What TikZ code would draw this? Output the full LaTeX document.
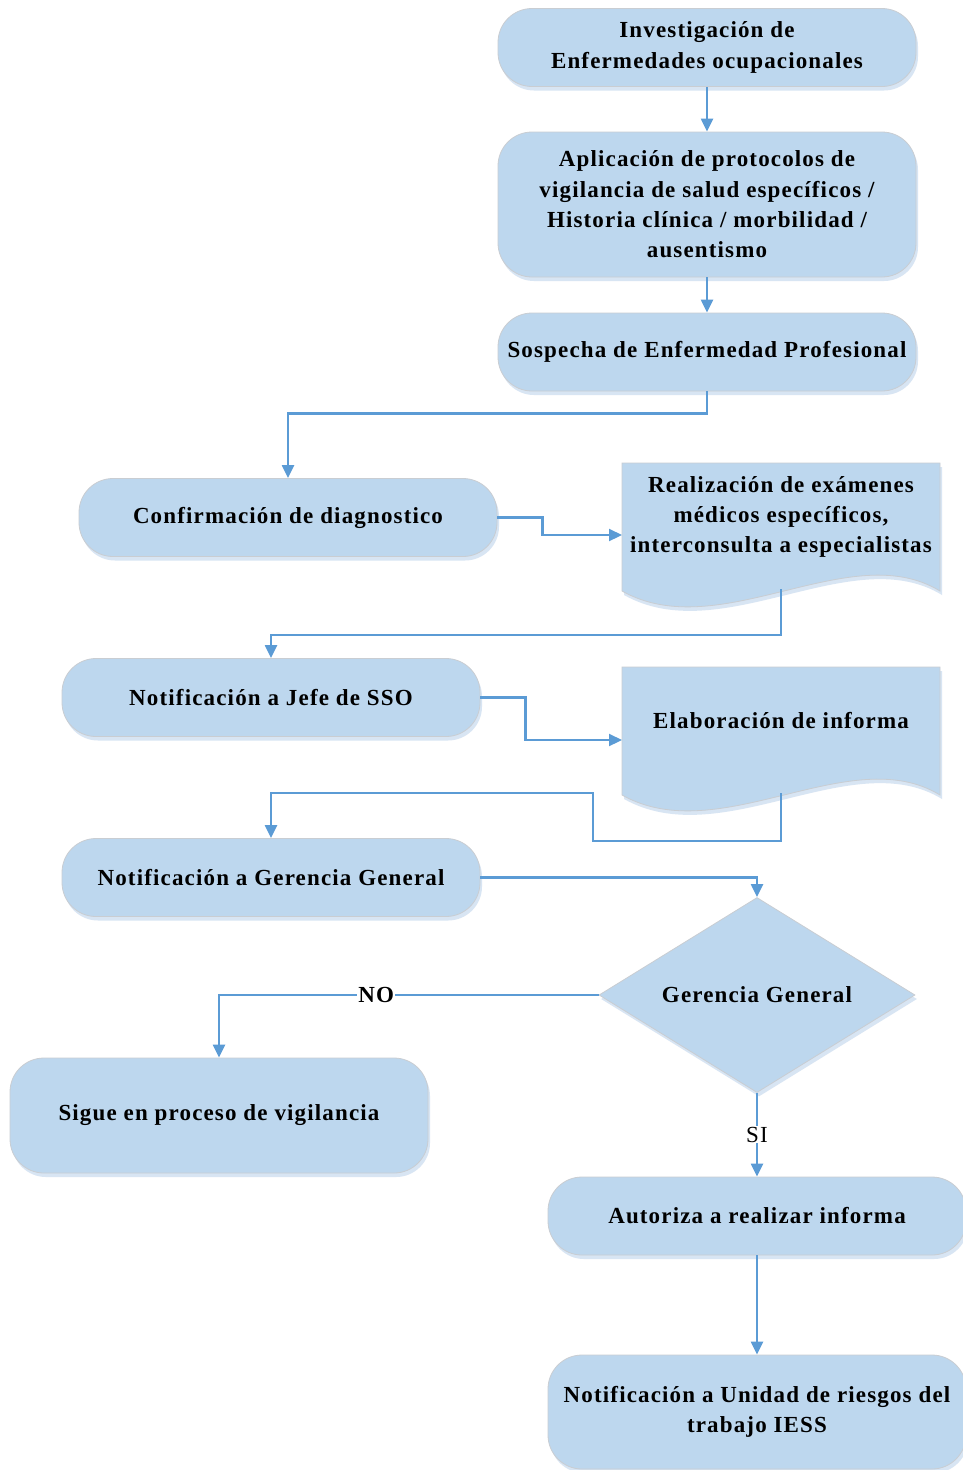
\documentclass[tikz,border=0pt]{standalone}
\usepackage{fontspec}
\setmainfont{Liberation Serif}[LetterSpace=5]
\usetikzlibrary{shapes.geometric,arrows.meta,shadows}
\definecolor{boxfill}{HTML}{BDD7EE}
\definecolor{boxshade}{HTML}{D8E5F3}
\definecolor{boxline}{HTML}{C9CDD2}
\definecolor{flow}{HTML}{5B9BD5}
\newcommand\boxfont{\fontsize{23}{30.3}\selectfont\bfseries}

\tikzset{
  shade box/.style={general shadow={fill=boxshade, shadow xshift=2pt, shadow yshift=-4pt}},
  stepbox/.style={draw=boxline, line width=0.8pt, fill=boxfill, rounded corners=34pt,
    minimum width=418pt, minimum height=78pt, inner sep=0pt, align=center,
    font=\boxfont, shade box},
  decision/.style={diamond, aspect=1.62, draw=boxline, line width=0.8pt, fill=boxfill,
    minimum width=316pt, minimum height=195pt, inner sep=0pt, font=\boxfont, shade box},
  doctext/.style={align=center, font=\boxfont, inner sep=0pt},
  flowline/.style={draw=flow, line width=2.2pt},
  flowarrow/.style={flowline, -{Triangle[length=13pt,width=12pt]}},
  flowlabel/.style={fill=white, inner sep=1pt, font=\fontsize{23}{28}\selectfont},
}

% wavy-bottom document shape with its shadow
\newcommand\docshape{%
  \fill[boxshade] (624,467) -- (942,467) -- (942,595)
    .. controls (852,540) and (722,650) .. (624,595) -- cycle;
  \filldraw[fill=boxfill, draw=boxline, line width=0.8pt] (622,463) -- (940,463) -- (940,591)
    .. controls (850,536) and (720,646) .. (622,591) -- cycle;
}

\begin{document}
\begin{tikzpicture}[x=1pt, y=-1pt]
\useasboundingbox (0,0) rectangle (963,1470);
\clip (0,0) rectangle (963,1470);
\fill[white] (0,0) rectangle (963,1470);

% process steps
\node[stepbox] (b1) at (707,47.5) {Investigación de\\Enfermedades ocupacionales};
\node[stepbox, minimum height=145pt] (b2) at (707,204.5)
  {Aplicación de protocolos de\\vigilancia de salud específicos /\\Historia clínica / morbilidad /\\ausentismo};
\node[stepbox] (b3) at (707,352) {Sospecha de Enfermedad Profesional};
\node[stepbox] (b4) at (288,517.5) {Confirmación de diagnostico};
\node[stepbox] (b5) at (271,697.5) {Notificación a Jefe de SSO};
\node[stepbox] (b6) at (271,877.5) {Notificación a Gerencia General};
\node[stepbox, minimum height=115pt] (b7) at (219,1115.5) {Sigue en proceso de vigilancia};
\node[stepbox] (b8) at (757,1216) {Autoriza a realizar informa};
\node[stepbox, minimum height=114pt] (b9) at (757,1412)
  {Notificación a Unidad de riesgos del\\trabajo IESS};

% documents
\docshape
\node[doctext] (d1) at (781,517) {Realización de exámenes\\médicos específicos,\\interconsulta a especialistas};
\coordinate (d1w) at (622,535);
\coordinate (d1s) at (781,589);
\begin{scope}[shift={(0,204)}]
  \docshape
  \coordinate (d2w) at (622,536);
  \coordinate (d2s) at (781,589);
\end{scope}
\node[doctext] (d2) at (781,721) {Elaboración de informa};

% decision
\node[decision] (g) at (757,995) {Gerencia General};

% connectors
\draw[flowarrow] (b1.south) -- (b2.north);
\draw[flowarrow] (b2.south) -- (b3.north);
\draw[flowarrow] (b3.south) -- ++(0,22) -| (b4.north);
\draw[flowarrow] (b4.east) -- ++(45,0) |- (d1w);
\draw[flowarrow] (d1s) -- ++(0,46) -| (b5.north);
\draw[flowarrow] (b5.east) -- ++(45,0) |- (d2w);
\draw[flowarrow] (d2s) -- ++(0,48) -| ++(-188,-48) -| (b6.north);
\draw[flowarrow] (b6.east) -| (g.north);
\draw[flowarrow] (g.west) -| node[flowlabel, pos=0.293, font=\fontsize{23}{28}\selectfont\bfseries] {NO} (b7.north);
\draw[flowarrow] (g.south) -- node[flowlabel, pos=0.5] {SI} (b8.north);
\draw[flowarrow] (b8.south) -- (b9.north);
\end{tikzpicture}
\end{document}
